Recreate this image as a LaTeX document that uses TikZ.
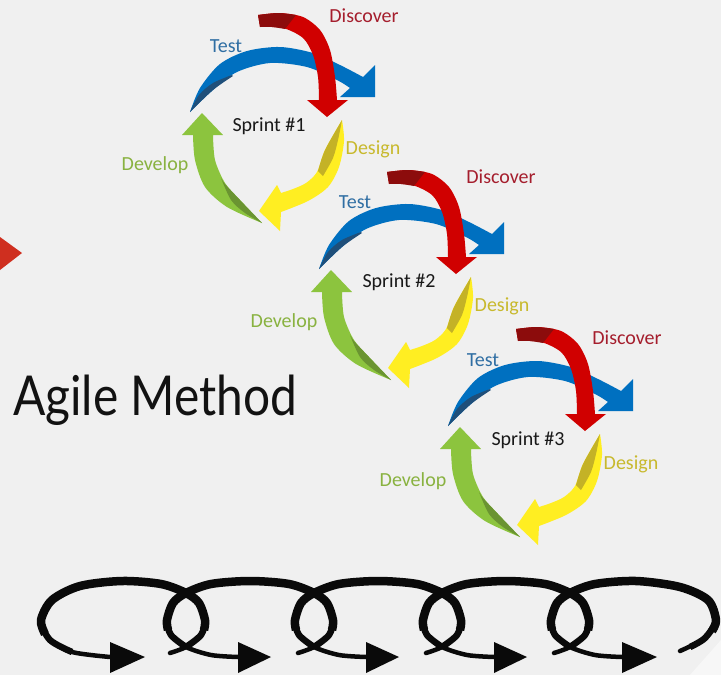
\documentclass[tikz,border=0pt]{standalone}
\usepackage{fontspec}
\usepackage{graphicx}
\setmainfont{Carlito}
\newfontfamily\titlefont{Lato}

\definecolor{bg}{HTML}{F0F0F0}
\definecolor{bglight}{HTML}{F7F7F7}
\definecolor{arRed}{HTML}{D00000}
\definecolor{arRedDark}{HTML}{8C0C0C}
\definecolor{arBlue}{HTML}{0070C0}
\definecolor{arBlueDark}{HTML}{1F4F7A}
\definecolor{arYellow}{HTML}{FFEE22}
\definecolor{arYellowDark}{HTML}{C4B226}
\definecolor{arGreen}{HTML}{8CC43E}
\definecolor{arGreenDark}{HTML}{6A9431}
\definecolor{lbRed}{HTML}{A51E2D}
\definecolor{lbBlue}{HTML}{2F6EA3}
\definecolor{lbYellow}{HTML}{C8B92D}
\definecolor{lbGreen}{HTML}{89B240}
\definecolor{coil}{HTML}{0A0A0A}
\definecolor{marker}{HTML}{CF2F1F}

\tikzset{
  lbl/.style={inner sep=0pt, font=\fontsize{20}{24}\selectfont},
  coilthin/.style={draw=coil, line width=4.5pt, line cap=round, line join=round},
  coilmid/.style={draw=coil, line width=6.5pt, line cap=butt, line join=round},
  coilthick/.style={draw=coil, line width=8.5pt, line cap=butt, line join=round},
}

% One sprint cycle of four ribbon arrows (local pixel coordinates)
\newcommand\sprintcycle{%
  % Develop (green)
  \fill[arGreen] (202,113) -- (223,135) -- (213,135)
    -- plot[smooth] coordinates {(213,135) (215,160) (225,183) (240,200) (262,223)}
    -- plot[smooth] coordinates {(262,223) (227,207) (205,187) (195,160) (193,135)}
    -- (182,135) -- cycle;
  \fill[arGreenDark] plot[smooth] coordinates {(221,178) (231,200) (245,213) (262,223)}
    -- plot[smooth] coordinates {(262,223) (240,200) (225,184) (221,178)} -- cycle;
  % Design (yellow)
  \fill[arYellow] plot[smooth] coordinates {(342,120) (344,141) (339,167) (328,187) (308,201) (281,212)}
    -- (280,231) -- (259,211) -- (277,185) -- (281,193)
    -- plot[smooth] coordinates {(281,193) (293,189) (306,183) (317,172) (325,150) (342,120)} -- cycle;
  \fill[arYellowDark] plot[smooth] coordinates {(342,120) (338,140) (333,158) (323,176)}
    -- plot[smooth] coordinates {(318,171) (325,150) (342,120)} -- cycle;
  % Test (blue)
  \fill[arBlue] plot[smooth] coordinates {(190,112) (200,88) (220,64) (247,51) (280,47) (313,53) (340,65) (363,77)}
    -- (375,65) -- (375,97) -- (340,97) -- (350,88)
    -- plot[smooth] coordinates {(350,88) (337,80) (307,67) (270,63) (237,72) (213,90) (190,112)} -- cycle;
  \fill[arBlueDark] plot[smooth] coordinates {(190,112) (199,95) (213,83) (232,75)}
    -- plot[smooth] coordinates {(233,76) (213,90) (190,112)} -- cycle;
  % Discover (red)
  \fill[arRed] plot[smooth] coordinates {(258,15) (280,13) (303,17) (320,30) (330,50) (335,77) (337,100)}
    -- (348,100) -- (327,117) -- (307,100) -- (319,100)
    -- plot[smooth] coordinates {(319,100) (318,77) (313,55) (303,38) (283,28) (260,27)} -- cycle;
  \fill[arRedDark] plot[smooth] coordinates {(258,15) (278,13) (296,15)}
    -- (285,29) -- plot[smooth] coordinates {(285,29) (272,27) (260,27)} -- cycle;
}

% One loop of the iteration coil; #1 is the x of its right-hand crossing
\newcommand\coilloop[1]{%
  \draw[coilthin] plot[smooth] coordinates {({#1-16},653) (#1,647) ({#1+15},635) ({#1+19},620)
    ({#1+13},603) (#1,593) ({#1-25},584) ({#1-64},581) ({#1-103},584) ({#1-128},593)
    ({#1-141},603) ({#1-147},620) ({#1-143},635) ({#1-128},647) ({#1-103},655) ({#1-76},657)};
  \draw[coilmid] plot[smooth] coordinates {(#1,647) ({#1+15},635) ({#1+19},620)
    ({#1+13},603) (#1,593) ({#1-25},584) ({#1-64},581) ({#1-103},584) ({#1-128},593)
    ({#1-141},603) ({#1-147},620) ({#1-143},635) ({#1-128},647)};
  \draw[coilthick] plot[smooth] coordinates {({#1+18},630) ({#1+19},620)
    ({#1+13},603) (#1,593) ({#1-25},584) ({#1-64},581) ({#1-103},584) ({#1-128},593)
    ({#1-141},603) ({#1-147},620) ({#1-146},630)};
  \fill[coil] ({#1-76},642) -- ({#1-76},673) -- ({#1-43},657) -- cycle;
}

\begin{document}
\begin{tikzpicture}[x=1pt,y=-1pt]
  \fill[bg] (0,0) rectangle (721,675);
  \useasboundingbox (0,0) rectangle (721,675);
  \fill[bglight] (690,675) -- (721,640) -- (721,675) -- cycle;

  % left marker
  \fill[marker] (0,237) -- (22,253) -- (0,270) -- cycle;

  % three sprint cycles
  \sprintcycle
  \begin{scope}[shift={(129,157)}]\sprintcycle\end{scope}
  \begin{scope}[shift={(258,314)}]\sprintcycle\end{scope}

  % labels, sprint 1
  \node[lbl, text=lbRed]   (disc1) at (364,16)  {Discover};
  \node[lbl, text=lbBlue]  (test1) at (226,46)  {Test};
  \node[lbl, text=lbYellow](des1)  at (373,149) {Design};
  \node[lbl, text=lbGreen] (dev1)  at (155,165) {Develop};
  \node[lbl, text=black!90](spr1)  at (269,126) {Sprint \#1};
  % labels, sprint 2
  \node[lbl, text=lbRed]   (disc2) at (501,177) {Discover};
  \node[lbl, text=lbBlue]  (test2) at (355,202) {Test};
  \node[lbl, text=lbYellow](des2)  at (502,306) {Design};
  \node[lbl, text=lbGreen] (dev2)  at (284,322) {Develop};
  \node[lbl, text=black!90](spr2)  at (399,282) {Sprint \#2};
  % labels, sprint 3
  \node[lbl, text=lbRed]   (disc3) at (627,338) {Discover};
  \node[lbl, text=lbBlue]  (test3) at (483,360) {Test};
  \node[lbl, text=lbYellow](des3)  at (631,464) {Design};
  \node[lbl, text=lbGreen] (dev3)  at (413,481) {Develop};
  \node[lbl, text=black!90](spr3)  at (528,440) {Sprint \#3};

  % title
  \node[anchor=base west, inner sep=0pt, text=black!93] (title) at (13,415)
    {\scalebox{0.87}[1]{\titlefont\fontsize{55}{60}\selectfont Agile Method}};

  % coil of iterations
  % first loop: open on the left
  \draw[coilthin] plot[smooth] coordinates {(170,653) (186,647) (201,635) (205,620) (199,603)
    (186,593) (161,584) (122,581) (80,586) (52,600) (41,620) (50,640) (72,652) (110,657)};
  \draw[coilmid] plot[smooth] coordinates {(186,647) (201,635) (205,620) (199,603)
    (186,593) (161,584) (122,581) (80,586) (52,600) (41,620) (50,640) (72,652)};
  \draw[coilthick] plot[smooth] coordinates {(204,630) (205,620) (199,603)
    (186,593) (161,584) (122,581) (80,586) (52,600) (41,620) (45,634)};
  \fill[coil] (110,642) -- (110,673) -- (145,657) -- cycle;
  \coilloop{314}
  \coilloop{442}
  \coilloop{570}
  % last loop: open on the right
  \draw[coilthin] plot[smooth] coordinates {(680,651) (705,638) (716,620) (708,600) (680,587)
    (636,581) (595,584) (570,593) (557,603) (551,620) (555,635) (570,647) (595,655) (622,657)};
  \draw[coilmid] plot[smooth] coordinates {(690,647) (705,638) (716,620) (708,600) (680,587)
    (636,581) (595,584) (570,593) (557,603) (551,620) (555,635) (570,647)};
  \draw[coilthick] plot[smooth] coordinates {(712,631) (716,620) (708,600) (680,587)
    (636,581) (595,584) (570,593) (557,603) (551,620) (552,630)};
  \fill[coil] (622,642) -- (622,673) -- (657,657) -- cycle;
\end{tikzpicture}
\end{document}
